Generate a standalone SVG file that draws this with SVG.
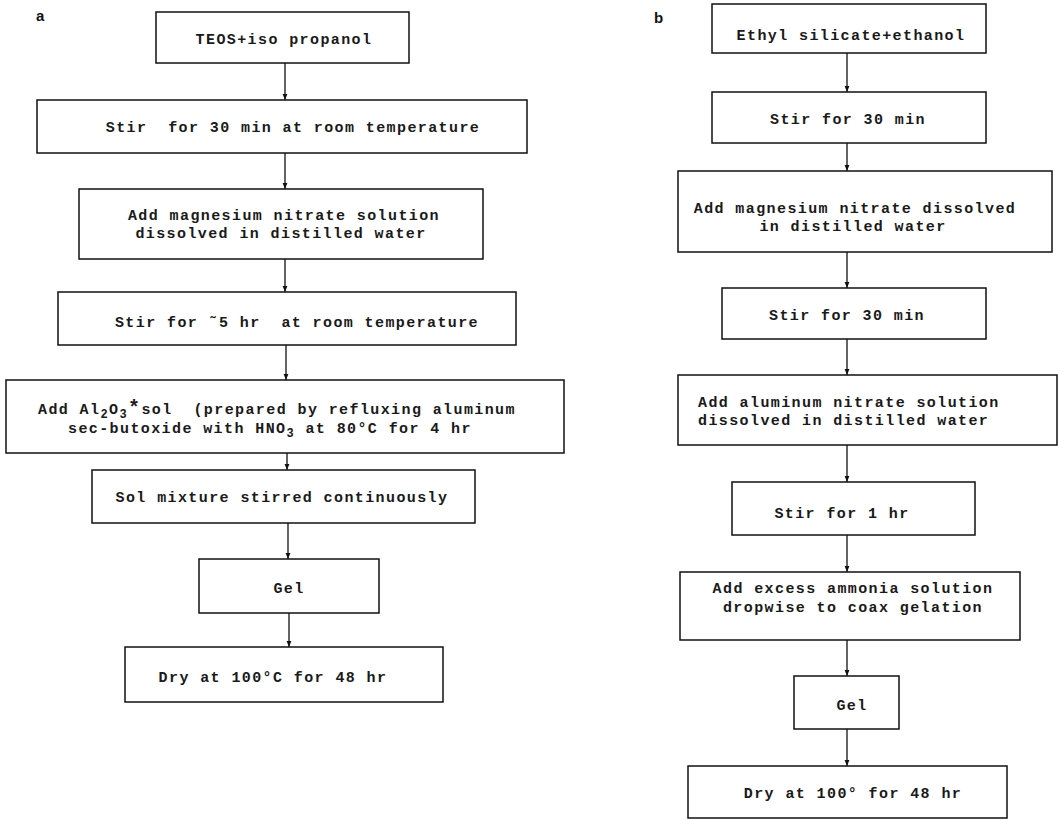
<svg xmlns="http://www.w3.org/2000/svg" width="1059" height="820" viewBox="0 0 1059 820">
<defs>
<marker id="ah" viewBox="0 0 10 10" refX="10" refY="5" markerWidth="6" markerHeight="6" orient="auto" markerUnits="userSpaceOnUse">
<path d="M0,1 L10,5 L0,9 Z" fill="#111"/>
</marker>
<style>
.box{fill:#fff;stroke:#111;stroke-width:1.5}
.t{font-family:"Liberation Mono","Courier New",monospace;font-size:15px;font-weight:bold;letter-spacing:1.4px;fill:#1a1a1a;text-anchor:middle}
.ts{text-anchor:start}
.sub{font-size:12px}
.lbl{font-family:"Liberation Sans",Arial,sans-serif;font-size:15px;font-weight:bold;fill:#111}
.c{stroke:#111;stroke-width:1.3;fill:none;marker-end:url(#ah)}
</style>
</defs>
<rect width="1059" height="820" fill="#fff"/>
<text class="lbl" x="36" y="21">a</text>
<text class="lbl" x="654" y="23">b</text>

<g id="connectors">
<line class="c" x1="285" y1="63" x2="285" y2="100"/>
<line class="c" x1="285" y1="153" x2="285" y2="189"/>
<line class="c" x1="285" y1="259" x2="285" y2="292"/>
<line class="c" x1="286" y1="345" x2="286" y2="380"/>
<line class="c" x1="287" y1="453" x2="287" y2="470"/>
<line class="c" x1="288" y1="523" x2="288" y2="559"/>
<line class="c" x1="289" y1="613" x2="289" y2="647"/>
<line class="c" x1="847" y1="53" x2="847" y2="92"/>
<line class="c" x1="847" y1="143" x2="847" y2="171"/>
<line class="c" x1="847" y1="252" x2="847" y2="288"/>
<line class="c" x1="847" y1="339" x2="847" y2="375"/>
<line class="c" x1="847" y1="445" x2="847" y2="482"/>
<line class="c" x1="847" y1="535" x2="847" y2="572"/>
<line class="c" x1="847" y1="640" x2="847" y2="676"/>
<line class="c" x1="847" y1="729" x2="847" y2="766"/>
</g>

<g id="a1"><rect class="box" x="156" y="12" width="253" height="51"/><text class="t" x="284" y="44">TEOS+iso propanol</text></g>
<g id="a2"><rect class="box" x="37" y="100" width="490" height="53"/><text class="t" x="293" y="132" xml:space="preserve">Stir  for 30 min at room temperature</text></g>
<g id="a3"><rect class="box" x="79" y="189" width="404" height="70"/><text class="t" x="284" y="220">Add magnesium nitrate solution</text><text class="t" x="281" y="238">dissolved in distilled water</text></g>
<g id="a4"><rect class="box" x="58" y="292" width="458" height="53"/><text class="t" x="297" y="327" xml:space="preserve">Stir for ˜5 hr  at room temperature</text></g>
<g id="a5"><rect class="box" x="6" y="380" width="558" height="73"/>
<text class="t ts" x="38" y="414" xml:space="preserve">Add Al<tspan class="sub" dy="4">2</tspan><tspan dy="-4">O</tspan><tspan class="sub" dy="4">3</tspan><tspan dy="-4" font-size="20">*</tspan>sol  (prepared by refluxing aluminum</text>
<text class="t ts" x="68" y="433">sec-butoxide with HNO<tspan class="sub" dy="4">3</tspan><tspan dy="-4"> at 80°C for 4 hr</tspan></text></g>
<g id="a6"><rect class="box" x="92" y="470" width="383" height="53"/><text class="t" x="282" y="502">Sol mixture stirred continuously</text></g>
<g id="a7"><rect class="box" x="199" y="559" width="180" height="54"/><text class="t" x="289" y="593">Gel</text></g>
<g id="a8"><rect class="box" x="125" y="647" width="318" height="55"/><text class="t" x="273" y="682">Dry at 100°C for 48 hr</text></g>

<g id="b1"><rect class="box" x="712" y="4" width="274" height="49"/><text class="t" x="851" y="40">Ethyl silicate+ethanol</text></g>
<g id="b2"><rect class="box" x="712" y="92" width="274" height="51"/><text class="t" x="848" y="124">Stir for 30 min</text></g>
<g id="b3"><rect class="box" x="678" y="171" width="374" height="81"/><text class="t" x="855" y="213">Add magnesium nitrate dissolved</text><text class="t" x="853" y="231">in distilled water</text></g>
<g id="b4"><rect class="box" x="722" y="288" width="264" height="51"/><text class="t" x="847" y="320">Stir for 30 min</text></g>
<g id="b5"><rect class="box" x="678" y="375" width="379" height="70"/><text class="t ts" x="698" y="407">Add aluminum nitrate solution</text><text class="t ts" x="698" y="425">dissolved in distilled water</text></g>
<g id="b6"><rect class="box" x="732" y="482" width="243" height="53"/><text class="t" x="842" y="518">Stir for 1 hr</text></g>
<g id="b7"><rect class="box" x="680" y="572" width="340" height="68"/><text class="t" x="853" y="593">Add excess ammonia solution</text><text class="t" x="853" y="612">dropwise to coax gelation</text></g>
<g id="b8"><rect class="box" x="794" y="676" width="105" height="53"/><text class="t" x="852" y="710">Gel</text></g>
<g id="b9"><rect class="box" x="688" y="766" width="319" height="52"/><text class="t" x="853" y="798">Dry at 100° for 48 hr</text></g>
</svg>
